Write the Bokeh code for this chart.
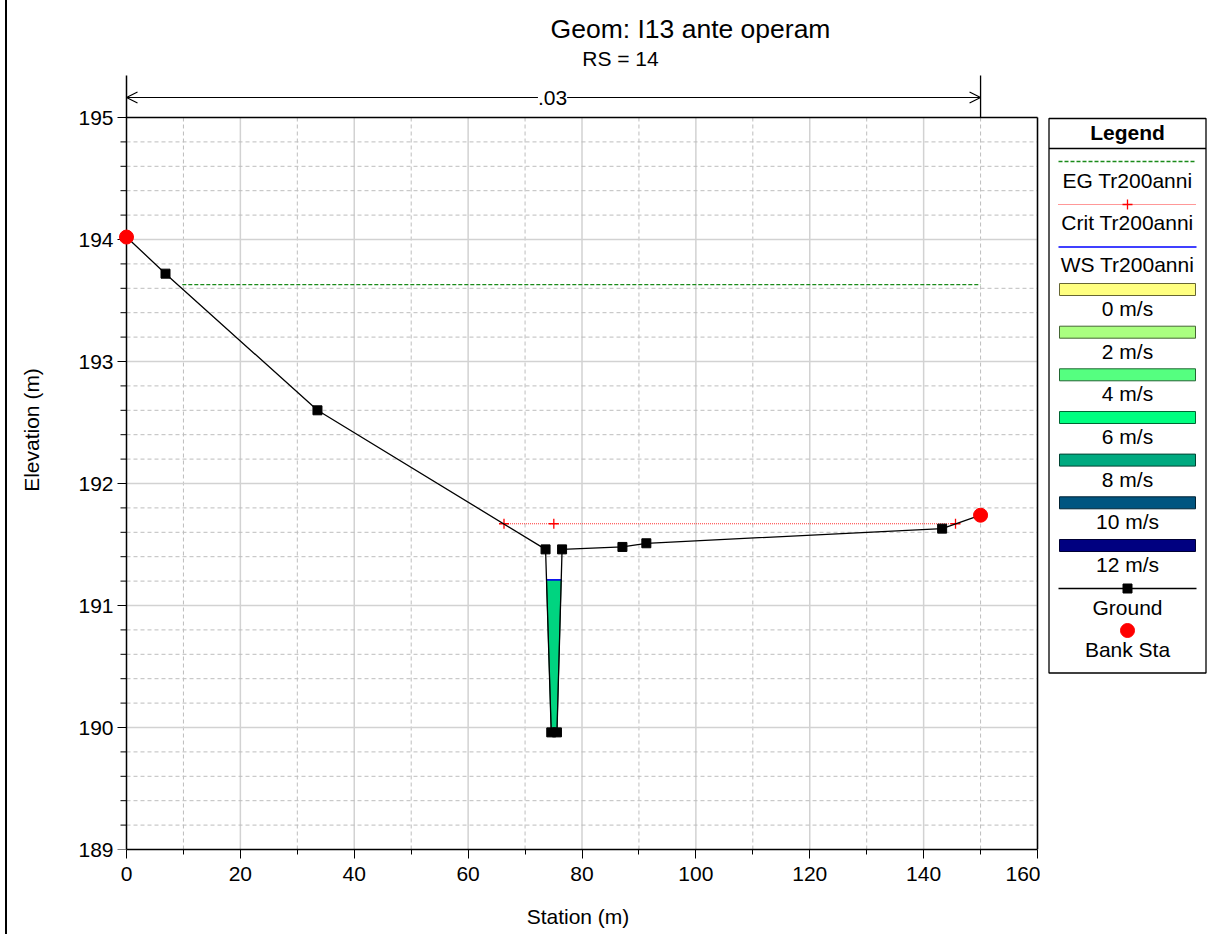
from bokeh.plotting import figure
from bokeh.models import Range1d, FixedTicker, Label, Arrow, OpenHead, Div
from bokeh.layouts import row
from bokeh.embed import file_html
from bokeh.resources import INLINE
from bokeh.core.properties import value
import numpy as np

# ---------------- data ----------------
title_text = "Geom: I13 ante operam"
subtitle_text = "RS = 14"
x_label = "Station (m)"
y_label = "Elevation (m)"

ground_sta = [0.0, 6.85, 33.54, 73.6, 74.6, 75.6, 76.5, 87.1, 91.3, 143.25, 150.0]
ground_elev = [194.02, 193.72, 192.60, 191.46, 189.96, 189.96, 191.46, 191.48, 191.51, 191.63, 191.74]
bank_sta = [0.0, 150.0]
bank_elev = [194.02, 191.74]
ws_elev = 191.21
eg_elev = 193.63
eg_sta = [9.8, 150.0]
crit_elev = 191.67
crit_sta = [66.3, 75.05, 145.6]
n_label = ".03"
n_sta = [0.0, 150.0]
water_velocity_color = "#00D480"

x_ticks = [0, 20, 40, 60, 80, 100, 120, 140, 160]
x_minor = [10, 30, 50, 70, 90, 110, 130, 150]
y_ticks = [189, 190, 191, 192, 193, 194, 195]
y_minor = [round(189 + 0.2 * i, 1) for i in range(31) if i % 5 != 0]

legend_title = "Legend"
line_labels = ["EG Tr200anni", "Crit Tr200anni", "WS Tr200anni"]
vel_labels = ["0 m/s", "2 m/s", "4 m/s", "6 m/s", "8 m/s", "10 m/s", "12 m/s"]
vel_colors = ["#FFFF80", "#AAFF80", "#55FF80", "#00FF80", "#00AA80", "#005580", "#000080"]
vel_edges = ["#666633", "#446633", "#226633", "#006633", "#004433", "#002233", "#000033"]
ground_label = "Ground"
bank_label = "Bank Sta"

FONT = "Liberation Sans"
FS = "21px"

# ---------------- layout geometry (page pixels) ----------------
AXIS_X, FRAME_L, FRAME_T, FRAME_B = 126, 115, 10, 849
px_x = 911.0 / 160.0
px_y = 122.0
x_start = -(AXIS_X - FRAME_L) / px_x
x_end = 160.0 + 3.0 / px_x
y_end = 195.0 + (117 - FRAME_T) / px_y
y_top_line = 195 + 42 / px_y

p = figure(width=1028, height=934, x_range=Range1d(x_start, x_end),
           y_range=Range1d(189, y_end), output_backend="svg", toolbar_location=None,
           min_border_left=FRAME_L - 12, min_border_right=0, min_border_top=FRAME_T,
           min_border_bottom=934 - FRAME_B)
p.outline_line_color = None
p.grid.visible = False

# axes
p.xaxis.ticker = FixedTicker(ticks=x_ticks, minor_ticks=x_minor)
p.yaxis.ticker = FixedTicker(ticks=y_ticks, minor_ticks=y_minor)
p.xaxis.bounds = (0, 160)
p.yaxis.bounds = (189, 195)
for ax in (p.xaxis, p.yaxis):
    ax.axis_line_color = "black"
    ax.axis_line_width = 1.5
    ax.major_tick_line_color = "black"
    ax.minor_tick_line_color = "black"
    ax.major_tick_in = 0
    ax.minor_tick_in = 0
    ax.major_tick_out = 9
    ax.major_label_text_font = FONT
    ax.major_label_text_font_size = FS
    ax.major_label_text_color = "black"
    ax.axis_label_text_font = FONT
    ax.axis_label_text_font_size = FS
    ax.axis_label_text_font_style = "normal"
    ax.axis_label_text_color = "black"
p.xaxis.minor_tick_out = 5
p.xaxis.axis_label = x_label
p.yaxis.axis_label = y_label
p.xaxis.major_label_standoff = 8
p.xaxis.axis_label_standoff = 21
# y axis: labels from Bokeh's axis, line and ticks drawn at station 0 below
p.yaxis.axis_line_color = None
p.yaxis.major_tick_line_color = None
p.yaxis.minor_tick_line_color = None
p.yaxis.major_tick_out = 0
p.yaxis.minor_tick_out = 0
p.yaxis.major_label_standoff = 2
p.yaxis.axis_label_standoff = 32

# grid lines (drawn from tick arrays)
p.segment(x0=x_ticks[1:], y0=189, x1=x_ticks[1:], y1=195, line_color="#d2d2d2", line_width=1.5)
p.segment(x0=x_minor, y0=189, x1=x_minor, y1=195, line_color="#bdbdbd", line_width=1, line_dash="4 3")
p.segment(x0=0, y0=y_ticks[1:-1], x1=160, y1=y_ticks[1:-1], line_color="#d2d2d2", line_width=1.5)
p.segment(x0=0, y0=y_minor, x1=160, y1=y_minor, line_color="#bdbdbd", line_width=1, line_dash="4 3")

# y axis line and ticks at station 0
p.segment(x0=0, y0=189, x1=0, y1=y_top_line, line_color="black", line_width=1.5)
p.segment(x0=-9 / px_x, y0=y_ticks, x1=0, y1=y_ticks, line_color="black", line_width=1)
p.segment(x0=-6 / px_x, y0=y_minor, x1=0, y1=y_minor, line_color="black", line_width=1)

# frame top/right
p.segment(x0=[0, 160], y0=[195, 189], x1=[160, 160], y1=[195, 195], line_color="black", line_width=1.5)

# water polygon
gs = np.array(ground_sta); ge = np.array(ground_elev)
poly_x, poly_y, cross = [], [], []
for i in range(len(gs) - 1):
    a, b = ge[i] - ws_elev, ge[i + 1] - ws_elev
    if a < 0:
        poly_x.append(gs[i]); poly_y.append(ge[i])
    if a * b < 0:
        t = a / (a - b)
        xc = gs[i] + t * (gs[i + 1] - gs[i])
        poly_x.append(xc); poly_y.append(ws_elev); cross.append(xc)
p.patch(poly_x, poly_y, fill_color=water_velocity_color, line_color="#0b5a3a", line_width=1)
p.line([cross[0], cross[-1]], [ws_elev, ws_elev], line_color="blue", line_width=1.5)

# EG
p.line(eg_sta, [eg_elev] * len(eg_sta), line_color="#1a8a1a", line_width=1.3, line_dash="4 2")
# Crit
p.line([crit_sta[0], crit_sta[-1]], [crit_elev, crit_elev], line_color="#ff3030", line_width=1, line_dash="1 1")
p.scatter(crit_sta, [crit_elev] * len(crit_sta), marker="cross", size=10, line_color="red", line_width=1.3)

# Ground
p.line(ground_sta, ground_elev, line_color="black", line_width=1.3)
p.scatter(ground_sta[1:-1], ground_elev[1:-1], marker="square", size=9, fill_color="black", line_color="black")
p.scatter(bank_sta, bank_elev, marker="circle", size=14, fill_color="red", line_color="red")

# n-value arrow above the section
ya = 195 + 20 / px_y
p.add_layout(Arrow(x_start=n_sta[0], y_start=ya, x_end=n_sta[1], y_end=ya,
                   start=OpenHead(size=11, line_width=1.2, line_color="black"),
                   end=OpenHead(size=11, line_width=1.2, line_color="black"),
                   line_color="black", line_width=1.2))
p.segment(x0=n_sta[1], y0=195, x1=n_sta[1], y1=y_top_line, line_color="black", line_width=1.3)
p.add_layout(Label(x=(n_sta[0] + n_sta[1]) / 2, y=ya, text=n_label, text_align="center",
                   text_baseline="middle", text_font=FONT, text_font_size=FS, text_color="black",
                   background_fill_color="white", x_offset=-1))

# titles
p.add_layout(Label(x=(690 - AXIS_X) / px_x, y=195 + (117 - 28) / px_y, text=title_text,
                   text_align="center", text_baseline="middle", text_font=FONT,
                   text_font_size="26.5px", text_color="black"))
p.add_layout(Label(x=(620 - AXIS_X) / px_x, y=195 + (117 - 58) / px_y, text=subtitle_text,
                   text_align="center", text_baseline="middle", text_font=FONT,
                   text_font_size=FS, text_color="black"))

# ---------------- legend panel (coordinates = page pixels) ----------------
lg = figure(width=173, height=934, x_range=Range1d(1040, 1213), y_range=Range1d(FRAME_B, FRAME_T),
            output_backend="svg", toolbar_location=None, x_axis_location=None, y_axis_location=None,
            min_border_left=0, min_border_right=0, min_border_top=FRAME_T,
            min_border_bottom=934 - FRAME_B)
lg.outline_line_color = None
lg.grid.visible = False
cx = 1127
L, R = 1058, 1196
lg.quad(left=1048.5, right=1205.5, top=118, bottom=672.5, fill_color=None, line_color="black", line_width=1.3)
lg.line([1048.5, 1205.5], [148, 148], line_color="black", line_width=1.3)
lg.text(x=[cx], y=[132], text=[legend_title], text_align="center", text_baseline="middle",
        text_font=value(FONT), text_font_size=FS, text_font_style="bold")
lg.line([L, R], [161, 161], line_color="#1a8a1a", line_width=1.3, line_dash="4 2")
lg.line([L, R], [204, 204], line_color="#ff3030", line_width=1, line_dash="1 1")
lg.scatter([cx], [204], marker="cross", size=10, line_color="red", line_width=1.3)
lg.line([L, R], [246.5, 246.5], line_color="blue", line_width=1.5)
line_y = [180, 222, 264]
lg.text(x=[cx] * 3, y=line_y, text=line_labels, text_align="center", text_baseline="middle",
        text_font=value(FONT), text_font_size=FS)
bar_top = [283, 325.7, 368.3, 411, 453.6, 496.3, 539]
lg.quad(left=1059, right=1195, top=bar_top, bottom=[t + 12 for t in bar_top],
        fill_color=vel_colors, line_color=vel_edges, line_width=1)
lg.text(x=[cx] * 7, y=[t + 25 for t in bar_top], text=vel_labels, text_align="center",
        text_baseline="middle", text_font=value(FONT), text_font_size=FS)
lg.line([L, R], [588, 588], line_color="black", line_width=1.3)
lg.scatter([cx], [588], marker="square", size=9, fill_color="black", line_color="black")
lg.scatter([cx], [630], marker="circle", size=14, fill_color="red", line_color="red")
lg.text(x=[cx, cx], y=[607, 649], text=[ground_label, bank_label], text_align="center",
        text_baseline="middle", text_font=value(FONT), text_font_size=FS)

edge = Div(width=2, height=934, margin=(0, 5, 0, 5), styles={"background-color": "black"})
layout = row(edge, p, lg, spacing=0)
open("out.html", "w").write(file_html(layout, INLINE))
